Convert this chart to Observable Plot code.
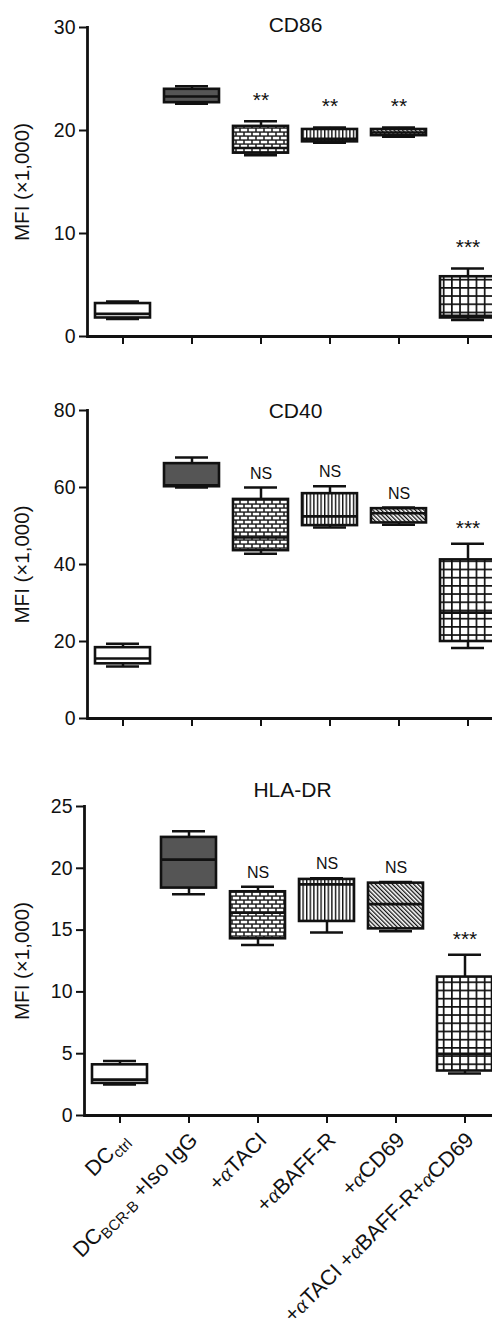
<!DOCTYPE html>
<html><head><meta charset="utf-8">
<script src="https://cdn.jsdelivr.net/npm/d3@7"></script>
<script src="https://cdn.jsdelivr.net/npm/@observablehq/plot@0.6"></script>
<style>
body{margin:0;background:#fff;}
#wrap{position:relative;width:492px;height:1328px;overflow:hidden;background:#fff;}
#wrap svg.panel{position:absolute;left:0;max-width:none !important;}
</style></head><body>
<div id="wrap">
<svg width="0" height="0" style="position:absolute;left:0;top:0">
<defs>
<pattern id="pBrick" patternUnits="userSpaceOnUse" width="8" height="8">
  <rect width="8" height="8" fill="#1a1a1a"/>
  <rect x="0.75" y="0.75" width="6.5" height="2.6" fill="#fff"/>
  <rect x="-3.25" y="4.75" width="6.5" height="2.6" fill="#fff"/>
  <rect x="4.75" y="4.75" width="6.5" height="2.6" fill="#fff"/>
</pattern>
<pattern id="pVert" patternUnits="userSpaceOnUse" width="3.6" height="4">
  <rect width="3.6" height="4" fill="#fff"/>
  <rect x="0" y="0" width="1.4" height="4" fill="#111"/>
</pattern>
<pattern id="pDiag" patternUnits="userSpaceOnUse" width="3" height="3" patternTransform="rotate(-45)">
  <rect width="3" height="3" fill="#fff"/>
  <rect x="0" y="0" width="1.3" height="3" fill="#111"/>
</pattern>
<pattern id="pGrid" patternUnits="userSpaceOnUse" width="8.2" height="8.2">
  <rect width="8.2" height="8.2" fill="#fff"/>
  <rect x="0" y="0" width="1.7" height="8.2" fill="#111"/>
  <rect x="0" y="0" width="8.2" height="1.7" fill="#111"/>
</pattern>
</defs>
</svg>
</div>
<script>
// ---- categories / tick labels ----
const groups = ["DC_{ctrl}", "DC_{BCR-B} +Iso IgG", "+αTACI", "+αBAFF-R", "+αCD69", "+αTACI +αBAFF-R+αCD69"];
const fills = ["#ffffff", "#555555", "url(#pBrick)", "url(#pVert)", "url(#pDiag)", "url(#pGrid)"];
const yLabel = "MFI (×1,000)";

// ---- CD86 ----
const cd86Min = [1.7, 22.6, 17.6, 18.8, 19.4, 1.6];
const cd86Q1  = [1.8, 22.7, 17.8, 18.9, 19.5, 1.8];
const cd86Med = [2.2, 23.3, 18.3, 19.2, 19.8, 2.0];
const cd86Q3  = [3.2, 24.0, 20.4, 20.1, 20.1, 5.8];
const cd86Max = [3.4, 24.3, 20.9, 20.3, 20.3, 6.6];
const cd86Sig = ["", "", "**", "**", "**", "***"];
const cd86Ticks = [0, 10, 20, 30];

// ---- CD40 ----
const cd40Min = [13.5, 60.0, 42.8, 49.6, 50.3, 18.3];
const cd40Q1  = [14.2, 60.2, 43.6, 50.1, 50.8, 20.0];
const cd40Med = [15.6, 60.6, 47.0, 52.5, 53.3, 27.5];
const cd40Q3  = [18.4, 66.2, 56.9, 58.4, 54.5, 41.2];
const cd40Max = [19.4, 67.8, 60.0, 60.3, 54.8, 45.4];
const cd40Sig = ["", "", "NS", "NS", "NS", "***"];
const cd40Ticks = [0, 20, 40, 60, 80];

// ---- HLA-DR ----
const hlaMin = [2.5, 17.9, 13.8, 14.8, 14.9, 3.4];
const hlaQ1  = [2.6, 18.4, 14.3, 15.7, 15.1, 3.6];
const hlaMed = [2.9, 20.7, 16.4, 18.7, 17.1, 5.0];
const hlaQ3  = [4.1, 22.5, 18.1, 19.1, 18.8, 11.2];
const hlaMax = [4.4, 23.0, 18.5, 19.2, 18.9, 13.0];
const hlaSig = ["", "", "NS", "NS", "NS", "***"];
const hlaTicks = [0, 5, 10, 15, 20, 25];

const FONT = "'Liberation Sans', Arial, Helvetica, sans-serif";

function richLabel(el, s) {
  const ns = "http://www.w3.org/2000/svg";
  el.textContent = "";
  const re = /(_\{[^}]*\})|(α)|([^_α]+)/g;
  let m, inSub = false;
  while ((m = re.exec(s))) {
    const t = document.createElementNS(ns, "tspan");
    if (m[1]) {
      t.textContent = m[1].slice(2, -1);
      t.setAttribute("font-size", "15");
      t.setAttribute("dy", "4.5");
      inSub = true;
    } else {
      if (m[2]) {
        t.textContent = "α";
        t.setAttribute("font-family", "'Liberation Serif', 'DejaVu Serif', serif");
        t.setAttribute("font-style", "italic");
      } else {
        t.textContent = m[3];
      }
      if (inSub) { t.setAttribute("dy", "-4.5"); inSub = false; }
    }
    el.appendChild(t);
  }
}

function panel(cfg) {
  const data = groups.map((g, i) => ({
    g, fill: fills[i],
    min: cfg.min[i], q1: cfg.q1[i], med: cfg.med[i], q3: cfg.q3[i], max: cfg.max[i], sig: cfg.sig[i]
  }));
  const svg = Plot.plot({
    width: 510,
    height: cfg.height,
    marginTop: cfg.marginTop,
    marginBottom: cfg.marginBottom,
    marginLeft: cfg.marginLeft,
    marginRight: 510 - cfg.marginLeft - 416,
    style: {fontFamily: FONT, background: "transparent", color: "#111", overflow: "visible", maxWidth: "none"},
    x: {domain: groups, paddingInner: 0.2, paddingOuter: 0.106, label: null},
    y: {domain: cfg.domain, label: null},
    color: {type: "identity"},
    marks: [
      Plot.ruleX(data, {x: "g", y1: "min", y2: "max", stroke: "#111", strokeWidth: 2.5}),
      Plot.tickY(data, {x: "g", y: "min", stroke: "#111", strokeWidth: 2.5, insetLeft: 11, insetRight: 11}),
      Plot.tickY(data, {x: "g", y: "max", stroke: "#111", strokeWidth: 2.5, insetLeft: 11, insetRight: 11}),
      Plot.barY(data, {x: "g", y1: "q1", y2: "q3", fill: "fill", stroke: "#111", strokeWidth: 2.6}),
      Plot.tickY(data, {x: "g", y: "med", stroke: "#111", strokeWidth: 2.6}),
      Plot.text(data.filter(d => d.sig === "NS"), {x: "g", y: "max", text: "sig", dy: -14, fontSize: 16, fill: "#111"}),
      Plot.text(data.filter(d => d.sig.startsWith("*")), {x: "g", y: "max", text: "sig", dy: cfg.starDy, fontSize: 21, fill: "#111"}),
      Plot.ruleY([cfg.domain[0]], {stroke: "#111", strokeWidth: 2.8}),
      Plot.frame({anchor: "left", stroke: "#111", strokeWidth: 2.8}),
      Plot.axisY({ticks: cfg.ticks, tickSize: 8, tickPadding: 4, fontSize: 19.5, strokeWidth: 2, label: null}),
      Plot.text([yLabel], {frameAnchor: "left", rotate: -90, textAnchor: "middle", lineAnchor: "top",
        dx: cfg.yLabelX - cfg.marginLeft, fontSize: 20.5, fill: "#111"}),
      Plot.axisX({tickSize: 8, strokeWidth: 2, label: null, tickFormat: () => ""}),
      cfg.showLabels
        ? Plot.text(groups, {x: d => d, frameAnchor: "bottom", rotate: -45, textAnchor: "end", lineAnchor: "middle",
            dx: 5, dy: 21, fontSize: 21.5, fill: "#111"})
        : null,
      Plot.text([cfg.title], {frameAnchor: "top", dy: cfg.titleDy, fontSize: 21, fill: "#111"})
    ]
  });
  svg.classList.add("panel");
  svg.style.top = cfg.top + "px";
  svg.style.maxWidth = "none";
  if (cfg.showLabels) {
    svg.querySelectorAll("text").forEach(t => {
      const s = t.textContent;
      if (groups.includes(s)) richLabel(t, s);
    });
  }
  document.getElementById("wrap").appendChild(svg);
}

panel({title: "CD86", min: cd86Min, q1: cd86Q1, med: cd86Med, q3: cd86Q3, max: cd86Max, sig: cd86Sig,
  domain: [0, 30], ticks: cd86Ticks, top: 0, height: 350, marginTop: 27, marginBottom: 14, marginLeft: 87,
  yLabelX: 14, titleDy: -10, starDy: -21, showLabels: false});
panel({title: "CD40", min: cd40Min, q1: cd40Q1, med: cd40Med, q3: cd40Q3, max: cd40Max, sig: cd40Sig,
  domain: [0, 80], ticks: cd40Ticks, top: 380, height: 352, marginTop: 30, marginBottom: 14, marginLeft: 87,
  yLabelX: 14, titleDy: -7, starDy: -15, showLabels: false});
panel({title: "HLA-DR", min: hlaMin, q1: hlaQ1, med: hlaMed, q3: hlaQ3, max: hlaMax, sig: hlaSig,
  domain: [0, 25], ticks: hlaTicks, top: 760, height: 568, marginTop: 46, marginBottom: 213, marginLeft: 84,
  yLabelX: 14, titleDy: -24, starDy: -16, showLabels: true});
</script>
</body></html>
